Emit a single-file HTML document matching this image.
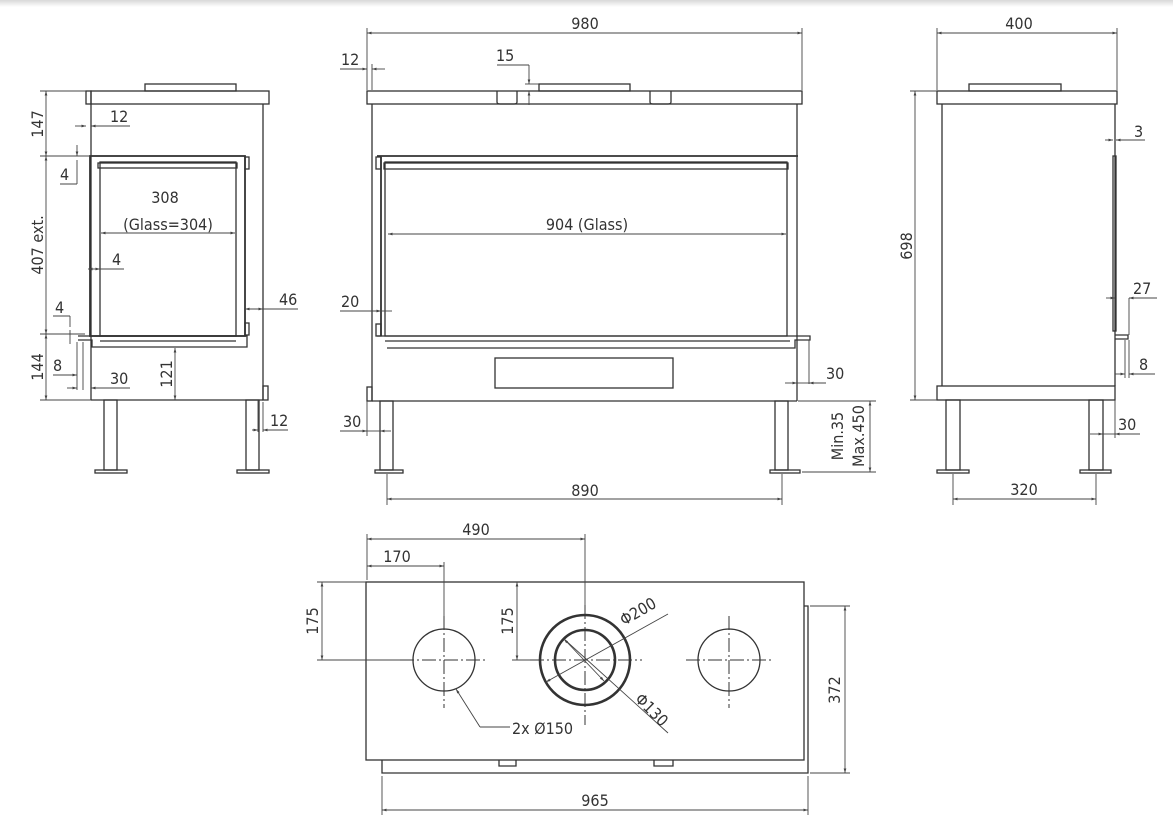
<!DOCTYPE html>
<html><head><meta charset="utf-8"><style>
html,body{margin:0;padding:0;background:#fff;}
svg{display:block;}
text{font-family:"DejaVu Sans Condensed","Liberation Sans",sans-serif;font-size:16px;fill:#333;}
</style></head><body>
<svg width="1173" height="818" viewBox="0 0 1173 818" xmlns="http://www.w3.org/2000/svg">
<defs>
<linearGradient id="g" x1="0" y1="0" x2="0" y2="1"><stop offset="0" stop-color="#d8d8d8"/><stop offset="1" stop-color="#fff"/></linearGradient>
<marker id="a" viewBox="0 0 10 10" refX="10" refY="5" markerWidth="7" markerHeight="5" orient="auto-start-reverse"><path d="M0,2 L10,5 L0,8z" fill="#444"/></marker>
</defs>
<rect x="0" y="0" width="1173" height="7" fill="url(#g)"/>
<g fill="none" stroke="#333" stroke-width="1.3">
<!-- LEFT VIEW -->
<rect x="145" y="84" width="91" height="7"/>
<rect x="91" y="91" width="178" height="13"/>
<rect x="86" y="91" width="5" height="13"/>
<line x1="91" y1="104" x2="91" y2="400"/><line x1="263" y1="104" x2="263" y2="400"/>
<line x1="91" y1="400" x2="263" y2="400"/>
<rect x="90" y="156" width="155" height="180" stroke-width="1.8"/>
<rect x="100" y="162" width="136" height="174"/>
<rect x="98" y="163" width="139" height="5"/>
<rect x="245" y="157" width="4" height="12"/><rect x="245" y="323" width="4" height="12"/>
<path d="M78,336 L247,336 L247,347 L92,347 L92,340 L78,340"/>
<line x1="100" y1="341" x2="236" y2="341"/>
<rect x="263" y="386" width="5" height="14"/>
<rect x="104" y="400" width="13" height="70"/><rect x="95" y="470" width="32" height="3"/>
<rect x="246" y="400" width="13" height="70"/><rect x="237" y="470" width="32" height="3"/>
<!-- MIDDLE VIEW -->
<rect x="539" y="84" width="91" height="7"/>
<rect x="367" y="91" width="435" height="13"/>
<path d="M497,91 V102 Q497,104 500,104 H514 Q517,104 517,102 V91"/>
<path d="M650,91 V102 Q650,104 653,104 H668 Q671,104 671,102 V91"/>
<line x1="372" y1="104" x2="372" y2="401"/><line x1="797" y1="104" x2="797" y2="401"/>
<line x1="372" y1="401" x2="797" y2="401"/>
<rect x="367" y="387" width="5" height="14"/>
<line x1="377" y1="156" x2="798" y2="156" stroke-width="1.8"/>
<line x1="381" y1="157" x2="381" y2="336" stroke-width="1.8"/>
<rect x="385" y="162" width="402" height="174"/>
<rect x="384" y="163" width="404" height="6"/>
<rect x="376" y="157" width="5" height="12"/><rect x="376" y="324" width="5" height="12"/>
<path d="M377,336 L810,336 L810,340 L795,340 L795,348 L387,348"/>
<line x1="385" y1="341" x2="790" y2="341"/>
<rect x="495" y="358" width="178" height="30"/>
<rect x="380" y="401" width="13" height="69"/><rect x="375" y="470" width="28" height="3"/>
<rect x="775" y="401" width="13" height="69"/><rect x="770" y="470" width="30" height="3"/>
<!-- RIGHT VIEW -->
<rect x="969" y="84" width="92" height="7"/>
<rect x="937" y="91" width="180" height="13"/>
<line x1="942" y1="104" x2="942" y2="386"/><line x1="1115" y1="104" x2="1115" y2="386"/>
<rect x="937" y="386" width="178" height="14"/>
<rect x="1113" y="156" width="3" height="175"/>
<path d="M1115,335 H1128 V339 H1115"/>
<rect x="946" y="400" width="14" height="70"/><rect x="937" y="470" width="32" height="3"/>
<rect x="1089" y="400" width="14" height="70"/><rect x="1080" y="470" width="31" height="3"/>
<!-- BOTTOM VIEW -->
<rect x="366" y="582" width="438" height="178"/>
<path d="M382,760 V773 H808 V606 H804"/>
<path d="M499,760 V766 H516 V760 M654,760 V766 H673 V760"/>
<circle cx="444" cy="660" r="31"/>
<circle cx="729" cy="660" r="31"/>
<circle cx="585" cy="660" r="45" stroke-width="2.6"/>
<circle cx="585" cy="660" r="30" stroke-width="2.6"/>
</g>
<!-- centerlines -->
<g stroke="#333" stroke-width="1" stroke-dasharray="14,3,2,3" fill="none">
<line x1="400" y1="660" x2="486" y2="660"/><line x1="444" y1="616" x2="444" y2="708"/>
<line x1="530" y1="660" x2="642" y2="660"/><line x1="585" y1="605" x2="585" y2="725"/>
<line x1="686" y1="660" x2="772" y2="660"/><line x1="729" y1="616" x2="729" y2="708"/>
</g>
<!-- dimension lines -->
<g stroke="#444" stroke-width="0.9" fill="none">
<!-- left -->
<line x1="40" y1="91" x2="86" y2="91"/><line x1="40" y1="156" x2="90" y2="156"/>
<line x1="40" y1="334" x2="85" y2="334"/><line x1="40" y1="400" x2="91" y2="400"/>
<line x1="46" y1="91" x2="46" y2="156" marker-start="url(#a)" marker-end="url(#a)"/>
<line x1="46" y1="156" x2="46" y2="334" marker-start="url(#a)" marker-end="url(#a)"/>
<line x1="46" y1="334" x2="46" y2="400" marker-start="url(#a)" marker-end="url(#a)"/>
<line x1="75" y1="126" x2="86" y2="126" marker-end="url(#a)"/><line x1="91" y1="126" x2="130" y2="126" marker-start="url(#a)"/>
<line x1="77" y1="145" x2="77" y2="156" marker-end="url(#a)"/><line x1="77" y1="160" x2="77" y2="184"/><line x1="60" y1="184" x2="77" y2="184"/>
<line x1="88" y1="269" x2="100" y2="269" marker-start="url(#a)" marker-end="url(#a)"/><line x1="100" y1="269" x2="124" y2="269"/>
<line x1="70" y1="330" x2="70" y2="344"/><line x1="53" y1="316" x2="70" y2="316"/><line x1="70" y1="316" x2="70" y2="327"/>
<line x1="53" y1="375" x2="77" y2="375" marker-end="url(#a)"/><line x1="77" y1="342" x2="77" y2="390"/><line x1="83" y1="342" x2="83" y2="390"/>
<line x1="67" y1="388" x2="77" y2="388" marker-end="url(#a)"/><line x1="91" y1="388" x2="130" y2="388" marker-start="url(#a)"/>
<line x1="175" y1="348" x2="175" y2="400" marker-start="url(#a)" marker-end="url(#a)"/>
<line x1="101" y1="233" x2="235" y2="233" marker-start="url(#a)" marker-end="url(#a)"/>
<line x1="245" y1="309" x2="263" y2="309" marker-start="url(#a)" marker-end="url(#a)"/><line x1="263" y1="309" x2="298" y2="309"/>
<line x1="258" y1="400" x2="258" y2="432"/><line x1="263" y1="402" x2="263" y2="432"/>
<line x1="252" y1="430" x2="258" y2="430" marker-end="url(#a)"/><line x1="263" y1="430" x2="288" y2="430" marker-start="url(#a)"/>
<!-- middle -->
<line x1="367" y1="28" x2="367" y2="90"/><line x1="802" y1="28" x2="802" y2="90"/>
<line x1="367" y1="33" x2="802" y2="33" marker-start="url(#a)" marker-end="url(#a)"/>
<line x1="372" y1="64" x2="372" y2="90"/>
<line x1="340" y1="69" x2="367" y2="69" marker-end="url(#a)"/><line x1="372" y1="69" x2="385" y2="69" marker-start="url(#a)"/>
<line x1="497" y1="65" x2="529" y2="65"/><line x1="529" y1="65" x2="529" y2="84" marker-end="url(#a)"/><line x1="529" y1="91" x2="529" y2="105" marker-start="url(#a)"/>
<line x1="525" y1="84" x2="539" y2="84"/>
<line x1="388" y1="234" x2="786" y2="234" marker-start="url(#a)" marker-end="url(#a)"/>
<line x1="340" y1="311" x2="381" y2="311" marker-end="url(#a)"/><line x1="381" y1="311" x2="392" y2="311"/>
<line x1="809" y1="340" x2="809" y2="384"/>
<line x1="785" y1="383" x2="797" y2="383" marker-end="url(#a)"/><line x1="809" y1="383" x2="826" y2="383" marker-start="url(#a)"/><line x1="797" y1="383" x2="809" y2="383"/>
<line x1="367" y1="401" x2="367" y2="436"/>
<line x1="340" y1="431" x2="367" y2="431" marker-end="url(#a)"/><line x1="380" y1="431" x2="391" y2="431" marker-start="url(#a)"/><line x1="367" y1="431" x2="380" y2="431"/>
<line x1="387" y1="474" x2="387" y2="505"/><line x1="782" y1="474" x2="782" y2="505"/>
<line x1="387" y1="499" x2="782" y2="499" marker-start="url(#a)" marker-end="url(#a)"/>
<line x1="798" y1="401" x2="876" y2="401"/><line x1="802" y1="472" x2="876" y2="472"/>
<line x1="870" y1="401" x2="870" y2="472" marker-start="url(#a)" marker-end="url(#a)"/>
<!-- right -->
<line x1="937" y1="28" x2="937" y2="90"/><line x1="1117" y1="28" x2="1117" y2="90"/>
<line x1="937" y1="33" x2="1117" y2="33" marker-start="url(#a)" marker-end="url(#a)"/>
<line x1="910" y1="91" x2="937" y2="91"/><line x1="910" y1="400" x2="937" y2="400"/>
<line x1="915" y1="91" x2="915" y2="400" marker-start="url(#a)" marker-end="url(#a)"/>
<line x1="1105" y1="140" x2="1113" y2="140" marker-end="url(#a)"/><line x1="1116" y1="140" x2="1145" y2="140" marker-start="url(#a)"/>
<line x1="1106" y1="298" x2="1115" y2="298" marker-end="url(#a)"/><line x1="1129" y1="298" x2="1157" y2="298" marker-start="url(#a)"/>
<line x1="1129" y1="298" x2="1129" y2="335"/>
<line x1="1125" y1="340" x2="1125" y2="378"/><line x1="1129" y1="340" x2="1129" y2="378"/>
<line x1="1115" y1="374" x2="1125" y2="374" marker-end="url(#a)"/><line x1="1129" y1="374" x2="1155" y2="374" marker-start="url(#a)"/>
<line x1="1115" y1="400" x2="1115" y2="438"/>
<line x1="1090" y1="434" x2="1103" y2="434" marker-end="url(#a)"/><line x1="1115" y1="434" x2="1140" y2="434" marker-start="url(#a)"/><line x1="1103" y1="434" x2="1115" y2="434"/>
<line x1="953" y1="474" x2="953" y2="505"/><line x1="1096" y1="474" x2="1096" y2="505"/>
<line x1="953" y1="499" x2="1096" y2="499" marker-start="url(#a)" marker-end="url(#a)"/>
<!-- bottom -->
<line x1="367" y1="534" x2="367" y2="580"/><line x1="585" y1="534" x2="585" y2="605"/>
<line x1="367" y1="539" x2="585" y2="539" marker-start="url(#a)" marker-end="url(#a)"/>
<line x1="444" y1="562" x2="444" y2="616"/>
<line x1="367" y1="566" x2="444" y2="566" marker-start="url(#a)" marker-end="url(#a)"/>
<line x1="317" y1="582" x2="366" y2="582"/><line x1="317" y1="660" x2="400" y2="660"/>
<line x1="322" y1="582" x2="322" y2="660" marker-start="url(#a)" marker-end="url(#a)"/>
<line x1="512" y1="660" x2="530" y2="660"/>
<line x1="517" y1="582" x2="517" y2="660" marker-start="url(#a)" marker-end="url(#a)"/>
<line x1="546" y1="682" x2="668" y2="614" marker-start="url(#a)"/>
<line x1="564" y1="639" x2="668" y2="733"/>
<line x1="564" y1="639" x2="604" y2="681" marker-start="url(#a)" marker-end="url(#a)"/>
<line x1="456" y1="689" x2="480" y2="727" marker-start="url(#a)"/><line x1="480" y1="727" x2="510" y2="727"/>
<line x1="810" y1="606" x2="850" y2="606"/><line x1="810" y1="773" x2="850" y2="773"/>
<line x1="845" y1="606" x2="845" y2="773" marker-start="url(#a)" marker-end="url(#a)"/>
<line x1="382" y1="776" x2="382" y2="815"/><line x1="808" y1="776" x2="808" y2="815"/>
<line x1="382" y1="810" x2="808" y2="810" marker-start="url(#a)" marker-end="url(#a)"/>
</g>
<!-- labels -->
<g>
<text x="110" y="122">12</text>
<text transform="translate(43,124) rotate(-90)" text-anchor="middle">147</text>
<text x="60" y="180">4</text>
<text x="165" y="203" text-anchor="middle">308</text>
<text x="168" y="230" text-anchor="middle">(Glass=304)</text>
<text transform="translate(43,245) rotate(-90)" text-anchor="middle">407 ext.</text>
<text x="112" y="265">4</text>
<text x="279" y="305">46</text>
<text x="55" y="313">4</text>
<text transform="translate(43,367) rotate(-90)" text-anchor="middle">144</text>
<text x="53" y="371">8</text>
<text x="110" y="384">30</text>
<text transform="translate(172,374) rotate(-90)" text-anchor="middle">121</text>
<text x="270" y="426">12</text>
<text x="585" y="29" text-anchor="middle">980</text>
<text x="341" y="65">12</text>
<text x="496" y="61">15</text>
<text x="587" y="230" text-anchor="middle">904 (Glass)</text>
<text x="341" y="307">20</text>
<text x="826" y="379">30</text>
<text x="343" y="427">30</text>
<text x="585" y="496" text-anchor="middle">890</text>
<text transform="translate(843,436) rotate(-90)" text-anchor="middle">Min.35</text>
<text transform="translate(864,436) rotate(-90)" text-anchor="middle">Max.450</text>
<text x="1019" y="29" text-anchor="middle">400</text>
<text transform="translate(912,246) rotate(-90)" text-anchor="middle">698</text>
<text x="1134" y="137">3</text>
<text x="1133" y="294">27</text>
<text x="1139" y="370">8</text>
<text x="1118" y="430">30</text>
<text x="1024" y="495" text-anchor="middle">320</text>
<text x="476" y="535" text-anchor="middle">490</text>
<text x="397" y="562" text-anchor="middle">170</text>
<text transform="translate(318,621) rotate(-90)" text-anchor="middle">175</text>
<text transform="translate(513,621) rotate(-90)" text-anchor="middle">175</text>
<text transform="translate(624,626) rotate(-30)">Φ200</text>
<text transform="translate(634,700) rotate(45)">Φ130</text>
<text x="512" y="734">2x Ø150</text>
<text transform="translate(840,690) rotate(-90)" text-anchor="middle">372</text>
<text x="595" y="806" text-anchor="middle">965</text>
</g>
</svg>
</body></html>
